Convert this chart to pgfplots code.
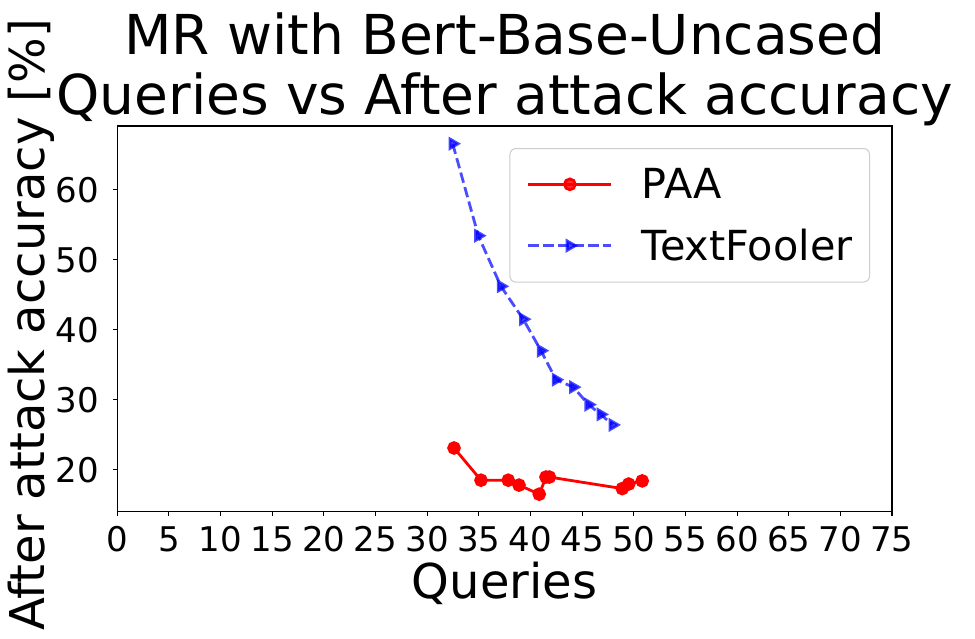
\documentclass[border=0pt]{standalone}
\usepackage{fontspec}
\setmainfont{DejaVu Sans}
\usepackage{pgfplots}
\pgfplotsset{compat=1.18}
\definecolor{tfblue}{RGB}{0,0,255}
\begin{document}
\begin{tikzpicture}
\begin{axis}[
  scale only axis,
  width=774.7pt, height=385.7pt,
  at={(0pt,0pt)}, anchor=south west,
  xmin=0, xmax=75, ymin=14.0, ymax=69.1,
  xtick={0,5,...,75}, ytick={20,30,40,50,60},
  xtick pos=bottom, ytick pos=left, tick align=outside,
  major tick length=4pt,
  every tick/.style={black, line width=1.1pt},
  axis line style={line width=1.1pt},
  /pgf/number format/assume math mode=true,
  xticklabel style={font=\fontsize{34}{40}\selectfont, anchor=base, inner sep=0pt, yshift=-35.8pt},
  yticklabel style={font=\fontsize{34}{40}\selectfont, anchor=east, inner sep=0pt, xshift=-14pt},
  title={MR with Bert-Base-Uncased\\Queries vs After attack accuracy},
  title style={font=\fontsize{55}{60}\selectfont, align=center, at={(axis description cs:0.5,1)}, anchor=south, inner sep=0pt, yshift=-6pt},
  xlabel={Queries},
  xlabel style={font=\fontsize{48}{56}\selectfont, at={(axis description cs:0.5,0)}, anchor=base, inner sep=0pt, yshift=-87pt},
  ylabel={After attack accuracy [\%]},
  ylabel style={font=\fontsize{48}{56}\selectfont, at={(axis description cs:0,0.5)}, anchor=base, inner sep=0pt, xshift=-6pt, yshift=72.3pt},
  legend style={at={(1,1)}, anchor=north east, xshift=-22pt, yshift=-22pt,
    draw=black!20, line width=1pt, rounded corners=6pt, fill=white, fill opacity=0.8, text opacity=1, draw opacity=1,
    font=\fontsize{41.4}{48}\selectfont, inner xsep=17pt, inner ysep=20pt, row sep=29pt,
    nodes={inner sep=0pt}},
  legend cell align=left,
  legend image code/.code={\draw[mark repeat=2,mark phase=2,#1] plot coordinates {(0pt,0pt) (41.5pt,0pt) (83pt,0pt)};},
  /tikz/every odd column/.append style={column sep=29pt},
]
\addplot[red, line width=2.8pt, mark=*, mark size=5.4pt, mark options={solid}] coordinates {
(32.6,23.1) (35.21,18.5) (37.85,18.5) (38.89,17.8) (40.85,16.5) (41.5,18.95) (41.83,18.95) (48.89,17.3) (49.51,17.95) (50.82,18.4)
};
\addlegendentry{PAA}
\addplot[tfblue, opacity=0.7, line width=2.8pt, dash pattern=on 10.5pt off 4.5pt, mark=triangle*, mark size=5.5pt, mark options={solid, rotate=-90}] coordinates {
(32.47,66.57) (34.95,53.43) (37.14,46.2) (39.30,41.5) (41.02,37.0) (42.47,32.86) (44.14,31.8) (45.63,29.3) (46.80,27.9) (47.96,26.4)
};
\addlegendentry{TextFooler}
\end{axis}
\pgfresetboundingbox
\path (-117.3pt,-126.3pt) rectangle (857.7pt,511.7pt);
\end{tikzpicture}
\end{document}
